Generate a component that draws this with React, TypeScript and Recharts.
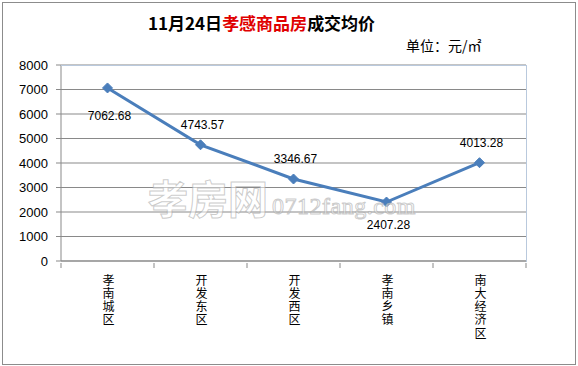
import { LineChart, Line, XAxis, YAxis, CartesianGrid, LabelList } from 'recharts';

// 11月24日 孝感商品房成交均价 (元/㎡)
const categories = ['孝南城区', '开发东区', '开发西区', '孝南乡镇', '南大经济区'];
const prices = [7062.68, 4743.57, 3346.67, 2407.28, 4013.28];
const yTicks = [0, 1000, 2000, 3000, 4000, 5000, 6000, 7000, 8000];
// where each value label sits relative to its point
const labelSides = ['below', 'above', 'above', 'below', 'above'];

const data = categories.map((name, i) => ({ name, price: prices[i] }));

const W = 578;
const H = 366;
const PLOT_LEFT = 61;
const PLOT_RIGHT = 526;
const PLOT_TOP = 65;
const PLOT_BOTTOM = 261;
const STEP = (PLOT_RIGHT - PLOT_LEFT) / categories.length;
const LINE_COLOR = '#4a7ebb';
const GRID_COLOR = '#898989';
const CJK = '"Noto Sans CJK SC", "Noto Sans", sans-serif';
const LATIN = '"Liberation Sans", Arial, sans-serif';

// vertical category text + tick marks at band edges
function CategoryTick(props: any) {
  const { x, y, payload, index } = props;
  return (
    <g>
      <line x1={x - STEP / 2} y1={y} x2={x - STEP / 2} y2={y + 5} stroke={GRID_COLOR} />
      {index === categories.length - 1 && (
        <line x1={x + STEP / 2} y1={y} x2={x + STEP / 2} y2={y + 5} stroke={GRID_COLOR} />
      )}
      <text
        x={x + 1}
        y={y + 11}
        fontSize={12}
        fontFamily={CJK}
        fill="#000"
        style={{ writingMode: 'vertical-rl', letterSpacing: '1.3px' }}
      >
        {payload.value}
      </text>
    </g>
  );
}

function Diamond(props: any) {
  const { cx, cy } = props;
  if (cx == null || cy == null) return null;
  const r = 5;
  return (
    <path
      d={`M${cx},${cy - r} L${cx + r},${cy} L${cx},${cy + r} L${cx - r},${cy} Z`}
      fill={LINE_COLOR}
      stroke={LINE_COLOR}
    />
  );
}

function ValueLabel(props: any) {
  const { x, y, value, index } = props;
  const below = labelSides[index] === 'below';
  return (
    <text
      x={x + 2}
      y={below ? y + (index === 0 ? 32 : 27) : y - 16}
      textAnchor="middle"
      fontSize={12}
      fontFamily={LATIN}
      fill="#000"
    >
      {Number(value).toFixed(2)}
    </text>
  );
}

export default function App() {
  return (
    <div style={{ position: 'absolute', left: 0, top: 0, width: W, height: H, background: '#fff' }}>
      <div
        style={{
          position: 'absolute',
          left: 2,
          top: 2,
          width: W - 6,
          height: H - 5,
          border: '1px solid #8c8c8c',
        }}
      />
      <div
        style={{
          position: 'absolute',
          left: 148,
          top: 13,
          fontFamily: CJK,
          fontWeight: 'bold',
          fontSize: 17,
          lineHeight: '20px',
          whiteSpace: 'nowrap',
          color: '#000',
        }}
      >
        11月24日<span style={{ color: '#e00000' }}>孝感商品房</span>成交均价
      </div>
      <div
        style={{
          position: 'absolute',
          left: 406,
          top: 36,
          fontFamily: CJK,
          fontSize: 14,
          lineHeight: '18px',
          whiteSpace: 'nowrap',
          color: '#000',
        }}
      >
        单位：元/㎡
      </div>
      <LineChart
        width={W}
        height={H}
        data={data}
        margin={{ top: PLOT_TOP, right: W - PLOT_RIGHT, bottom: 5, left: 0 }}
        style={{ position: 'absolute', left: 0, top: 0 }}
      >
        <CartesianGrid horizontal vertical={false} stroke={GRID_COLOR} strokeDasharray="" />
        <XAxis
          dataKey="name"
          interval={0}
          height={H - PLOT_BOTTOM - 5}
          padding={{ left: STEP / 2, right: STEP / 2 }}
          axisLine={{ stroke: GRID_COLOR }}
          tickLine={false}
          tickSize={0}
          tick={<CategoryTick />}
        />
        <YAxis
          width={PLOT_LEFT}
          domain={[0, 8000]}
          ticks={yTicks}
          interval={0}
          axisLine={{ stroke: GRID_COLOR }}
          tickLine={{ stroke: GRID_COLOR }}
          tickSize={5}
          tickMargin={8}
          tick={{ fill: '#000', fontSize: 13, fontFamily: LATIN }}
        />
        <Line
          type="linear"
          dataKey="price"
          stroke={LINE_COLOR}
          strokeWidth={3}
          dot={<Diamond />}
          activeDot={false}
          isAnimationActive={false}
        >
          <LabelList dataKey="price" content={<ValueLabel />} />
        </Line>
      </LineChart>
      <div
        style={{
          position: 'absolute',
          left: PLOT_LEFT,
          top: PLOT_TOP,
          width: PLOT_RIGHT - PLOT_LEFT,
          height: PLOT_BOTTOM - PLOT_TOP,
          borderTop: '1px solid #b9c9dd',
          borderRight: '1px solid #b9c9dd',
          pointerEvents: 'none',
        }}
      />
      <div
        style={{
          position: 'absolute',
          left: 148,
          top: 178,
          height: 38,
          lineHeight: '38px',
          whiteSpace: 'nowrap',
          color: 'rgba(255,255,255,0.5)',
          WebkitTextStroke: '1px rgba(160,160,160,0.55)',
          pointerEvents: 'none',
        }}
      >
        <span style={{ fontSize: 40, fontFamily: CJK, fontWeight: 'bold' }}>孝房网</span>
        <span style={{ fontSize: 24, fontFamily: '"Liberation Serif", serif', marginLeft: 4, letterSpacing: '0.5px' }}>
          0712fang.com
        </span>
      </div>
    </div>
  );
}
